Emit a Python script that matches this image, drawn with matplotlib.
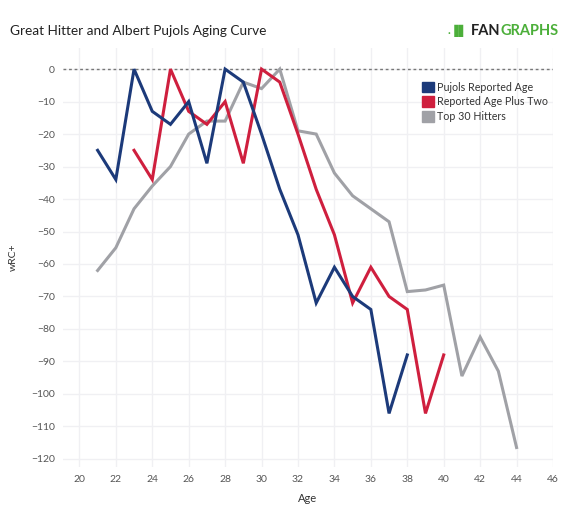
import matplotlib
matplotlib.use("Agg")
import matplotlib.pyplot as plt
from matplotlib.patches import Patch

plt.rcParams['font.family'] = ['Lato', 'DejaVu Sans']

pujols_ages = list(range(21, 39))
pujols_vals = [-25, -34, 0, -13, -17, -10, -29, 0, -4, -20, -37, -51, -72, -61, -70, -74, -106, -88]

plus2_ages = list(range(23, 41))
plus2_vals = [-25, -34, 0, -13, -17, -10, -29, 0, -4, -20, -37, -51, -72, -61, -70, -74, -106, -88]

top30_ages = list(range(21, 45))
top30_vals = [-62, -55, -43, -36, -30, -20, -16, -16, -4, -6, 0, -19, -20, -32, -39, -43, -47,
              -68.5, -68, -66.5, -94.5, -82.5, -93, -116.5]

series_labels = ["Pujols Reported Age", "Reported Age Plus Two", "Top 30 Hitters"]
colors = ["#1c3a7a", "#cf1f3e", "#a0a1a6"]

x_ticks = list(range(20, 47, 2))
y_ticks = list(range(0, -121, -10))

fig = plt.figure(figsize=(5.62, 5.12), dpi=100)
ax = fig.add_axes([63/562, 1 - 467/512, (553-63)/562, (467-48)/512])

ax.plot(top30_ages, top30_vals, color=colors[2], lw=2.2, solid_joinstyle='miter', zorder=3)
ax.plot(plus2_ages, plus2_vals, color=colors[1], lw=2.2, solid_joinstyle='miter', zorder=4)
ax.plot(pujols_ages, pujols_vals, color=colors[0], lw=2.2, solid_joinstyle='miter', zorder=5)

ax.axhline(0, color="#777777", lw=1, ls=(0, (2, 2)), zorder=2)

ax.set_xlim(19.1, 46.0)
ax.set_ylim(-122.5, 6.5)
ax.set_xticks(x_ticks)
ax.set_yticks(y_ticks)
ax.grid(True, color="#f0f0f3", lw=1)
ax.set_axisbelow(True)
for s in ax.spines.values():
    s.set_visible(False)
ax.tick_params(length=0, labelsize=7.5, colors="#555555", pad=6)
ax.set_xlabel("Age", fontsize=8, color="#333333", labelpad=6)
ax.set_ylabel("wRC+", fontsize=7.5, color="#333333", labelpad=9)

handles = [Patch(facecolor=c, edgecolor=c) for c in colors]
leg = ax.legend(handles, series_labels, loc="upper right", bbox_to_anchor=(0.99, 0.92),
                frameon=False, fontsize=7.7, handlelength=1.15, handleheight=1.15,
                handletextpad=0.3, labelspacing=0.35, borderaxespad=0.0, borderpad=0.0)
for t in leg.get_texts():
    t.set_color("#333333")

fig.text(10/562, 1 - 31/512, "Great Hitter and Albert Pujols Aging Curve", fontsize=9.8,
         color="#222222", va="center", ha="left")
graphs = fig.text(559/562, 1 - 31/512, "GRAPHS", fontsize=10.5, fontweight="bold",
                  color="#4caf3a", va="center", ha="right")
fan = fig.text(0, 0, "FAN", fontsize=10.5, fontweight="bold", color="#222222",
               va="center", ha="right")
fan.set_transform(matplotlib.transforms.IdentityTransform())
fig.canvas.draw()
r = fig.canvas.get_renderer()
gb = graphs.get_window_extent(r)
fan.set_position((gb.x0 - 1, (gb.y0 + gb.y1) / 2))
fb = fan.get_window_extent(r)
fig.text(fb.x0 - 2, (gb.y0 + gb.y1) / 2, ".▐▌", fontsize=8.5, fontweight="bold",
         color="#4caf3a", va="center", ha="right", transform=None)

fig.savefig("out.png", dpi=100, facecolor="white")
